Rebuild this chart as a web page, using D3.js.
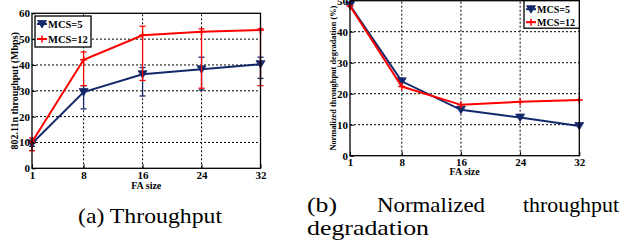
<!DOCTYPE html>
<html>
<head>
<meta charset="utf-8">
<script src="https://cdn.jsdelivr.net/npm/d3@7"></script>
<style>
  body { margin: 0; background: #fff; }
  svg { display: block; }
  svg text { font-family: 'Liberation Serif', 'Times New Roman', 'DejaVu Serif', serif; }
</style>
</head>
<body>
<div id="chart"></div>
<script>
// FA sizes on the x axis, shared by both panels
const faSizes = [1, 8, 16, 24, 32];
const yTicksTput = [0, 10, 20, 30, 40, 50, 60];
const yTicksDeg = [0, 10, 20, 30, 40, 50];
const seriesNames = ["MCS=5", "MCS=12"];

// (a) throughput, Mbps, with error bar ends
const tputMcs5 = [9.6, 29.5, 36.4, 38.3, 40.3];
const tputMcs5Lo = [8.5, 23, 28, 30.3, 34.8];
const tputMcs5Hi = [10.5, 32, 39, 43, 43];
const tputMcs12 = [10.2, 42, 51.5, 52.9, 53.5];
const tputMcs12Lo = [6.8, 32, 34, 31, 32];
const tputMcs12Hi = [11.7, 45, 55, 54, 54];

// (b) normalized throughput degradation, %
const degMcs5 = [48.5, 24, 14.8, 12.3, 9.6];
const degMcs12 = [48.3, 22.3, 16.4, 17.4, 18];

const blue = "#14296b";
const red = "#ff0000";

const svg = d3.select("#chart").append("svg")
  .attr("width", 623)
  .attr("height", 243);

function drawPanel(opt) {
  const x = d3.scaleLinear().domain([1, 32]).range(opt.xRange);
  const y = d3.scaleLinear().domain(opt.yDomain).range(opt.yRange);
  const g = svg.append("g");

  // dotted grid
  g.selectAll(".vgrid").data(faSizes.slice(1, -1)).enter().append("line")
    .attr("x1", d => x(d)).attr("x2", d => x(d))
    .attr("y1", y.range()[0]).attr("y2", y.range()[1])
    .attr("stroke", "#000").attr("stroke-width", 1).attr("stroke-dasharray", "2,2");
  g.selectAll(".hgrid").data(opt.yTicks.slice(1, -1)).enter().append("line")
    .attr("x1", x.range()[0]).attr("x2", x.range()[1])
    .attr("y1", d => y(d)).attr("y2", d => y(d))
    .attr("stroke", "#000").attr("stroke-width", 1).attr("stroke-dasharray", "2,2");

  const line = d3.line().x((d, i) => x(faSizes[i])).y(d => y(d));

  opt.series.forEach(s => {
    // error bars
    if (s.lo) {
      const eb = g.append("g").attr("stroke", s.color).attr("stroke-width", 1.3);
      faSizes.forEach((f, i) => {
        eb.append("line").attr("x1", x(f)).attr("x2", x(f)).attr("y1", y(s.lo[i])).attr("y2", y(s.hi[i]));
        [s.lo[i], s.hi[i]].forEach(v => {
          eb.append("line").attr("x1", x(f) - 3).attr("x2", x(f) + 3).attr("y1", y(v)).attr("y2", y(v));
        });
      });
    }
    g.append("path").datum(s.values)
      .attr("d", line)
      .attr("fill", "none")
      .attr("stroke", s.color)
      .attr("stroke-width", 2);
    s.values.forEach((v, i) => drawMarker(g, s.kind, x(faSizes[i]), y(v), s.color));
  });

  // axes
  const xAxis = d3.axisBottom(x).tickValues(faSizes).tickSize(-4).tickPadding(2.5);
  g.append("g").attr("transform", `translate(0,${y.range()[0]})`).call(xAxis)
    .call(a => a.select(".domain").remove())
    .call(a => a.selectAll("text").attr("font-size", 11).attr("font-weight", "bold").attr("fill", "#000"));
  const yAxis = d3.axisLeft(y).tickValues(opt.yTicks).tickSize(-4).tickPadding(2);
  g.append("g").attr("transform", `translate(${x.range()[0]},0)`).call(yAxis)
    .call(a => a.select(".domain").remove())
    .call(a => a.selectAll("text").attr("font-size", 11).attr("font-weight", "bold").attr("fill", "#000"));

  // frame
  g.append("rect")
    .attr("x", x.range()[0]).attr("y", y.range()[1])
    .attr("width", x.range()[1] - x.range()[0])
    .attr("height", y.range()[0] - y.range()[1])
    .attr("fill", "none").attr("stroke", "#000").attr("stroke-width", 1.3);

  g.append("text")
    .attr("x", (x.range()[0] + x.range()[1]) / 2).attr("y", opt.xLabelY)
    .attr("text-anchor", "middle")
    .attr("font-weight", "bold").attr("font-size", 10)
    .text("FA size");
  g.append("text")
    .attr("transform", `translate(${opt.yLabelX},${(y.range()[0] + y.range()[1]) / 2}) rotate(-90)`)
    .attr("text-anchor", "middle")
    .attr("font-weight", "bold").attr("font-size", opt.yLabelSize)
    .text(opt.yLabel);

  // legend
  const L = opt.legend;
  const lg = g.append("g");
  lg.append("rect").attr("x", L.x).attr("y", L.y).attr("width", L.w).attr("height", L.h)
    .attr("fill", "#fff").attr("stroke", "#000").attr("stroke-width", 1.3);
  opt.series.forEach((s, i) => {
    const ly = L.y + L.first + i * L.step;
    lg.append("line").attr("x1", L.x + 2).attr("x2", L.x + 12).attr("y1", ly).attr("y2", ly)
      .attr("stroke", s.color).attr("stroke-width", 2);
    drawMarker(lg, s.kind, L.x + 7, ly, s.color);
    lg.append("text").attr("x", L.x + 13).attr("y", ly + 3.5)
      .attr("font-weight", "bold").attr("font-size", L.font)
      .text(seriesNames[i]);
  });
}

function drawMarker(g, kind, cx, cy, color) {
  if (kind === "tri") {
    g.append("path")
      .attr("d", `M${cx - 4.5},${cy - 3.5}L${cx + 4.5},${cy - 3.5}L${cx},${cy + 4}Z`)
      .attr("fill", color).attr("stroke", color).attr("stroke-width", 0.8);
  } else {
    g.append("path")
      .attr("d", `M${cx - 3.5},${cy}L${cx + 3.5},${cy}M${cx},${cy - 3.5}L${cx},${cy + 3.5}`)
      .attr("stroke", color).attr("stroke-width", 1.5);
  }
}

drawPanel({
  xRange: [32, 260.5], yRange: [168.3, 13.3], yDomain: [0, 60], yTicks: yTicksTput,
  series: [
    { values: tputMcs5, lo: tputMcs5Lo, hi: tputMcs5Hi, color: blue, kind: "tri" },
    { values: tputMcs12, lo: tputMcs12Lo, hi: tputMcs12Hi, color: red, kind: "plus" }
  ],
  xLabelY: 188.5, yLabelX: 18, yLabelSize: 10, yLabel: "802.11n throughput (Mbps)",
  legend: { x: 35, y: 16, w: 56, h: 31, first: 8, step: 15, font: 10.5 }
});

drawPanel({
  xRange: [350, 579.3], yRange: [155.7, 0.7], yDomain: [0, 50], yTicks: yTicksDeg,
  series: [
    { values: degMcs5, color: blue, kind: "tri" },
    { values: degMcs12, color: red, kind: "plus" }
  ],
  xLabelY: 174.5, yLabelX: 336, yLabelSize: 8.3, yLabel: "Normalized throughput degradation (%)",
  legend: { x: 524, y: 0.7, w: 55.3, h: 27.5, first: 8.5, step: 13, font: 10 }
});

// captions (stretched a little, as in the source figure)
const cap = svg.append("g").attr("font-size", 22).attr("fill", "#000");
function caption(txt, x, y, w, anchor) {
  cap.append("text").attr("x", x).attr("y", y)
    .attr("text-anchor", anchor || "start")
    .attr("textLength", w).attr("lengthAdjust", "spacingAndGlyphs")
    .text(txt);
}
caption("(a) Throughput", 78, 223, 144);
caption("(b)", 307, 212, 30);
caption("Normalized", 377, 212, 108);
caption("throughput", 619, 212, 96, "end");
caption("degradation", 307, 235, 122);
</script>
</body>
</html>
